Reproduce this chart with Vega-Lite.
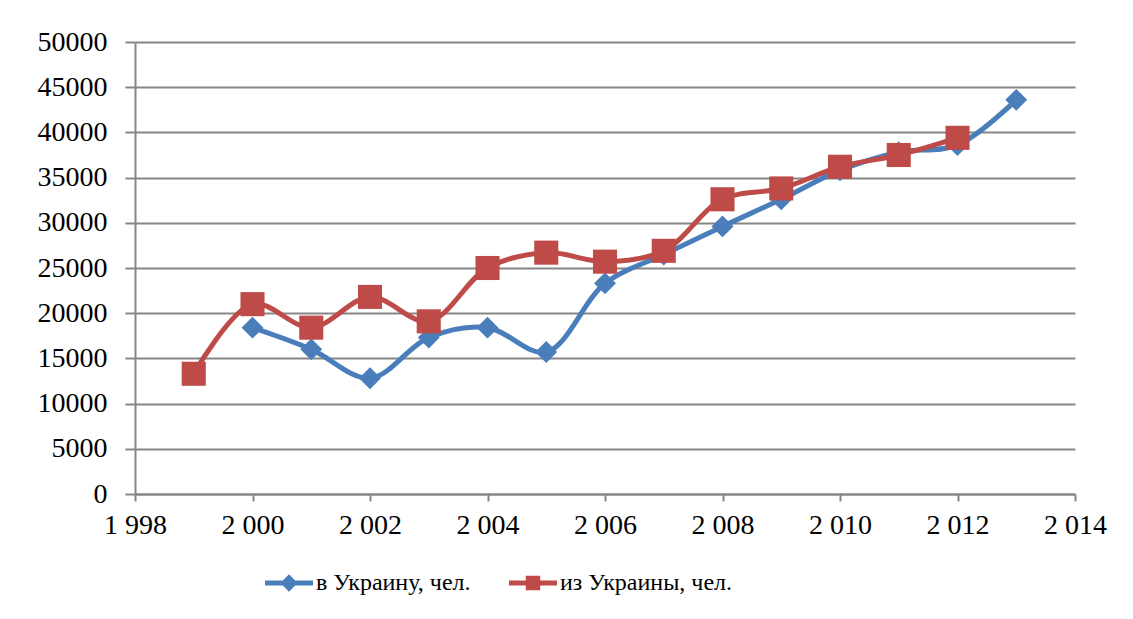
{
  "$schema": "https://vega.github.io/schema/vega-lite/v6.json",
  "width": 940,
  "height": 452,
  "autosize": "none",
  "padding": {"left": 135, "top": 42, "right": 58, "bottom": 125},
  "background": "white",
  "config": {
    "view": {"stroke": null},
    "font": "Liberation Serif"
  },
  "data": {
    "values": [
      {"year": 2000, "value": 18400, "series": "в Украину, чел."},
      {"year": 2001, "value": 16000, "series": "в Украину, чел."},
      {"year": 2002, "value": 12800, "series": "в Украину, чел."},
      {"year": 2003, "value": 17300, "series": "в Украину, чел."},
      {"year": 2004, "value": 18400, "series": "в Украину, чел."},
      {"year": 2005, "value": 15700, "series": "в Украину, чел."},
      {"year": 2006, "value": 23300, "series": "в Украину, чел."},
      {"year": 2007, "value": 26500, "series": "в Украину, чел."},
      {"year": 2008, "value": 29600, "series": "в Украину, чел."},
      {"year": 2009, "value": 32600, "series": "в Украину, чел."},
      {"year": 2010, "value": 35800, "series": "в Украину, чел."},
      {"year": 2011, "value": 37800, "series": "в Украину, чел."},
      {"year": 2012, "value": 38600, "series": "в Украину, чел."},
      {"year": 2013, "value": 43600, "series": "в Украину, чел."},
      {"year": 1999, "value": 13300, "series": "из Украины, чел."},
      {"year": 2000, "value": 21000, "series": "из Украины, чел."},
      {"year": 2001, "value": 18400, "series": "из Украины, чел."},
      {"year": 2002, "value": 21800, "series": "из Украины, чел."},
      {"year": 2003, "value": 19100, "series": "из Украины, чел."},
      {"year": 2004, "value": 25000, "series": "из Украины, чел."},
      {"year": 2005, "value": 26700, "series": "из Украины, чел."},
      {"year": 2006, "value": 25700, "series": "из Украины, чел."},
      {"year": 2007, "value": 26900, "series": "из Украины, чел."},
      {"year": 2008, "value": 32600, "series": "из Украины, чел."},
      {"year": 2009, "value": 33800, "series": "из Украины, чел."},
      {"year": 2010, "value": 36200, "series": "из Украины, чел."},
      {"year": 2011, "value": 37500, "series": "из Украины, чел."},
      {"year": 2012, "value": 39400, "series": "из Украины, чел."}
    ]
  },
  "encoding": {
    "x": {
      "field": "year",
      "type": "quantitative",
      "scale": {"domain": [1998, 2014], "nice": false, "zero": false},
      "axis": {
        "title": null,
        "values": [1998, 2000, 2002, 2004, 2006, 2008, 2010, 2012, 2014],
        "labelExpr": "replace(format(datum.value, ',d'), ',', ' ')",
        "grid": false,
        "domainColor": "#868686",
        "domainWidth": 2,
        "tickColor": "#868686",
        "tickWidth": 2,
        "tickSize": 7,
        "labelPadding": 10,
        "labelFont": "'Times New Roman', 'Liberation Serif', serif",
        "labelFontSize": 28,
        "labelColor": "#000000",
        "labelFlush": false
      }
    },
    "y": {
      "field": "value",
      "type": "quantitative",
      "scale": {"domain": [0, 50000], "nice": false},
      "axis": {
        "title": null,
        "values": [0, 5000, 10000, 15000, 20000, 25000, 30000, 35000, 40000, 45000, 50000],
        "format": "d",
        "grid": true,
        "gridColor": "#868686",
        "gridWidth": 2,
        "domainColor": "#868686",
        "domainWidth": 2,
        "tickColor": "#868686",
        "tickWidth": 2,
        "tickSize": 10,
        "labelPadding": 18,
        "labelFont": "'Times New Roman', 'Liberation Serif', serif",
        "labelFontSize": 28,
        "labelColor": "#000000"
      }
    },
    "color": {
      "field": "series",
      "type": "nominal",
      "scale": {
        "domain": ["в Украину, чел.", "из Украины, чел."],
        "range": ["#4A7EBB", "#BE4B48"]
      },
      "legend": {
        "title": null,
        "orient": "none",
        "legendX": 130,
        "legendY": 517,
        "direction": "horizontal",
        "padding": 0,
        "symbolSize": 2304,
        "symbolStrokeWidth": 0,
        "labelFont": "'Times New Roman', 'Liberation Serif', serif",
        "labelFontSize": 24,
        "labelColor": "#000000",
        "labelOffset": 3,
        "columnPadding": 38,
        "labelLimit": 400,
        "encode": {
          "symbols": {
            "update": {
              "shape": {"signal": "datum.value == 'в Украину, чел.' ? 'M-1,-0.1L1,-0.1L1,0.1L-1,0.1Z M0,-0.36L0.36,0L0,0.36L-0.36,0Z' : 'M-1,-0.1L1,-0.1L1,0.1L-1,0.1Z M-0.3,-0.3L0.3,-0.3L0.3,0.3L-0.3,0.3Z'"},
              "fill": {"signal": "datum.value == 'в Украину, чел.' ? '#4A7EBB' : '#BE4B48'"},
              "fillOpacity": {"value": 1},
              "strokeWidth": {"value": 0},
              "opacity": {"value": 1}
            }
          }
        }
      }
    }
  },
  "layer": [
    {
      "mark": {"type": "line", "interpolate": "catmull-rom", "strokeWidth": 5}
    },
    {
      "transform": [{"filter": "datum.series == 'в Украину, чел.'"}],
      "mark": {"type": "point", "shape": "diamond", "filled": true, "opacity": 1, "size": 480}
    },
    {
      "transform": [{"filter": "datum.series == 'из Украины, чел.'"}],
      "mark": {"type": "point", "shape": "square", "filled": true, "opacity": 1, "size": 580}
    }
  ]
}
